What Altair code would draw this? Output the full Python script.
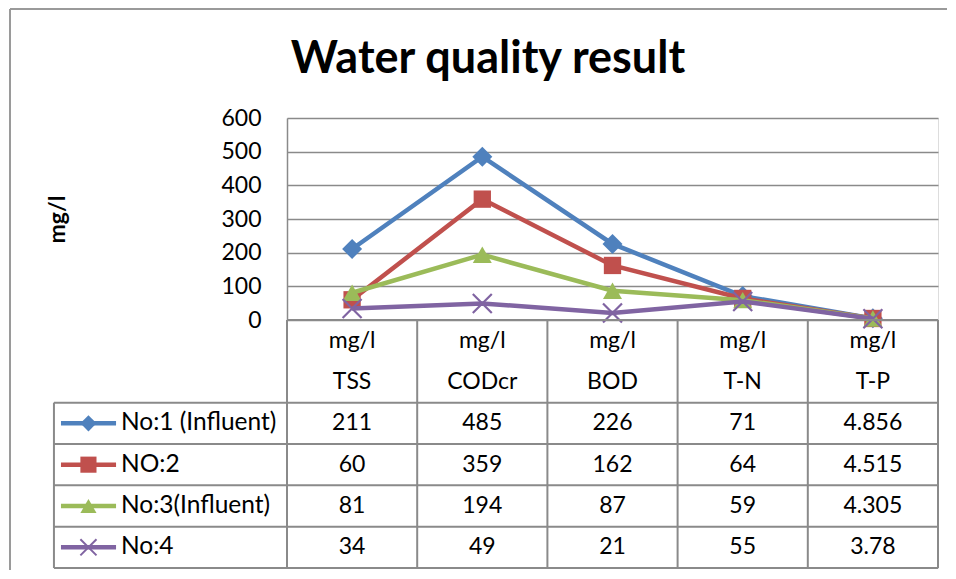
import altair as alt
import pandas as pd

# ---------------- data ----------------
categories = ["TSS", "CODcr", "BOD", "T-N", "T-P"]
units = ["mg/l", "mg/l", "mg/l", "mg/l", "mg/l"]
series_names = ["No:1 (Influent)", "NO:2", "No:3(Influent)", "No:4"]
no1 = [211, 485, 226, 71, 4.856]
no2 = [60, 359, 162, 64, 4.515]
no3 = [81, 194, 87, 59, 4.305]
no4 = [34, 49, 21, 55, 3.78]
y_ticks = [0, 100, 200, 300, 400, 500, 600]
title_text = "Water quality result"
y_title = "mg/l"

series_values = [no1, no2, no3, no4]

# ---------------- styles / geometry ----------------
colors = ["#4F81BD", "#C0504D", "#9BBB59", "#8064A2"]
shapes = ["diamond", "square", "triangle-up", "M-1,-1L1,1M-1,1L1,-1"]
filled = [True, True, True, False]
sizes = [400, 300, 360, 360]
leg_sizes = [260, 260, 260, 260]
FONT = "Lato"
GRID = "#8a8a8a"
W = 651
H = 450
PLOT_H = 202
n_cat = len(categories)
n_rows = 2 + len(series_names)
X_DOM = [-0.5, n_cat - 0.5]
LEG_LEFT = -2.29
LEG_L0, LEG_L1, LEG_MARK, LEG_TEXT = -2.236, -1.813, -2.025, -1.775

xscale = alt.Scale(domain=X_DOM)
yscale_val = alt.Scale(domain=[0, 600], range=[PLOT_H, 0])
yscale_row = alt.Scale(domain=[0, n_rows], range=[PLOT_H, H])

y_axis = alt.Axis(values=y_ticks, title=y_title, grid=True, gridColor=GRID, gridWidth=1.5,
                  domain=True, domainColor=GRID, domainWidth=1.5, ticks=False,
                  labelFont=FONT, labelFontSize=23, labelColor="black", labelPadding=26,
                  titleFont=FONT, titleFontSize=23, titleFontWeight="bold", titleColor="black",
                  titleAngle=270, titleX=-223, titleY=101, titleAlign="center",
                  titleBaseline="alphabetic")

# ---------------- line chart part ----------------
plot_layers = []
for si, (name, vals) in enumerate(zip(series_names, series_values)):
    df = pd.DataFrame({"idx": list(range(n_cat)), "value": vals, "series": name})
    base = alt.Chart(df).encode(
        x=alt.X("idx:Q", scale=xscale, axis=None),
        y=alt.Y("value:Q", scale=yscale_val, axis=y_axis),
    )
    line = base.mark_line(color=colors[si], strokeWidth=4.5)
    pts = base.mark_point(shape=shapes[si], filled=filled[si], size=sizes[si],
                          color=colors[si], opacity=1, strokeWidth=2.2)
    plot_layers += [line, pts]

plot_part = alt.layer(*plot_layers)

# ---------------- table part ----------------
hr = [0] + list(range(2, n_rows + 1))
h_df = pd.DataFrame({"r": hr,
                     "x0": [X_DOM[0] if r == 0 else LEG_LEFT for r in hr],
                     "x1": [X_DOM[1]] * len(hr)})
vx = [X_DOM[0] + i for i in range(n_cat + 1)]
v_df = pd.DataFrame({"x": vx + [LEG_LEFT],
                     "r0": [0] * len(vx) + [2],
                     "r1": [n_rows] * (len(vx) + 1)})

h_rules = alt.Chart(h_df).mark_rule(color=GRID, strokeWidth=2).encode(
    x=alt.X("x0:Q", scale=xscale, axis=None), x2="x1:Q",
    y=alt.Y("r:Q", scale=yscale_row, axis=None))
v_rules = alt.Chart(v_df).mark_rule(color=GRID, strokeWidth=2).encode(
    x=alt.X("x:Q", scale=xscale, axis=None),
    y=alt.Y("r0:Q", scale=yscale_row, axis=None), y2="r1:Q")

head_df = pd.DataFrame({"idx": list(range(n_cat)) * 2,
                        "r": [0.5] * n_cat + [1.5] * n_cat,
                        "t": units + categories})
cell_rows = []
for si, vals in enumerate(series_values):
    for ci, v in enumerate(vals):
        cell_rows.append({"idx": ci, "r": 2.5 + si, "t": f"{v:g}"})
cell_df = pd.DataFrame(cell_rows)
txt_df = pd.concat([head_df, cell_df], ignore_index=True)

cells = alt.Chart(txt_df).mark_text(font=FONT, fontSize=23, color="black",
                                    baseline="middle", align="center").encode(
    x=alt.X("idx:Q", scale=xscale, axis=None),
    y=alt.Y("r:Q", scale=yscale_row, axis=None), text="t:N")

leg_df = pd.DataFrame({"x": [LEG_TEXT] * len(series_names),
                       "r": [2.5 + i for i in range(len(series_names))],
                       "t": series_names})
leg_text = alt.Chart(leg_df).mark_text(font=FONT, fontSize=24.5, color="black",
                                       baseline="middle", align="left").encode(
    x=alt.X("x:Q", scale=xscale, axis=None),
    y=alt.Y("r:Q", scale=yscale_row, axis=None), text="t:N")

table_layers = [h_rules, v_rules, cells, leg_text]
for si, name in enumerate(series_names):
    sdf = pd.DataFrame({"x0": [LEG_L0], "x1": [LEG_L1], "xm": [LEG_MARK], "r": [2.5 + si]})
    table_layers.append(alt.Chart(sdf).mark_rule(color=colors[si], strokeWidth=4.5).encode(
        x=alt.X("x0:Q", scale=xscale, axis=None), x2="x1:Q",
        y=alt.Y("r:Q", scale=yscale_row, axis=None)))
    table_layers.append(alt.Chart(sdf).mark_point(shape=shapes[si], filled=filled[si],
                                                  size=leg_sizes[si], color=colors[si],
                                                  opacity=1, strokeWidth=2).encode(
        x=alt.X("xm:Q", scale=xscale, axis=None),
        y=alt.Y("r:Q", scale=yscale_row, axis=None)))

# title and outer frame (decoration)
title_df = pd.DataFrame({"t": [title_text]})
title_mark = alt.Chart(title_df).mark_text(font=FONT, fontSize=45, fontWeight="bold",
                                           color="black", align="center",
                                           baseline="alphabetic").encode(
    x=alt.value(201), y=alt.value(-45), text="t:N")
frame_left = alt.Chart(title_df).mark_rule(color="#9a9a9a", strokeWidth=2).encode(
    x=alt.value(-277), y=alt.value(-109), y2=alt.value(H + 40))
frame_top = alt.Chart(title_df).mark_rule(color="#9a9a9a", strokeWidth=2).encode(
    x=alt.value(-277), x2=alt.value(W + 40), y=alt.value(-109))
table_layers += [title_mark, frame_left, frame_top]

table_part = alt.layer(*table_layers)

chart = alt.layer(plot_part, table_part).resolve_scale(y="independent").properties(
    width=W, height=H,
    autosize=alt.AutoSizeParams(type="none"),
    padding={"left": 279, "top": 110, "right": 9, "bottom": 2},
).configure_view(stroke=None).configure(background="white")

chart.save("out.html", embed_options={"renderer": "svg", "actions": False})
